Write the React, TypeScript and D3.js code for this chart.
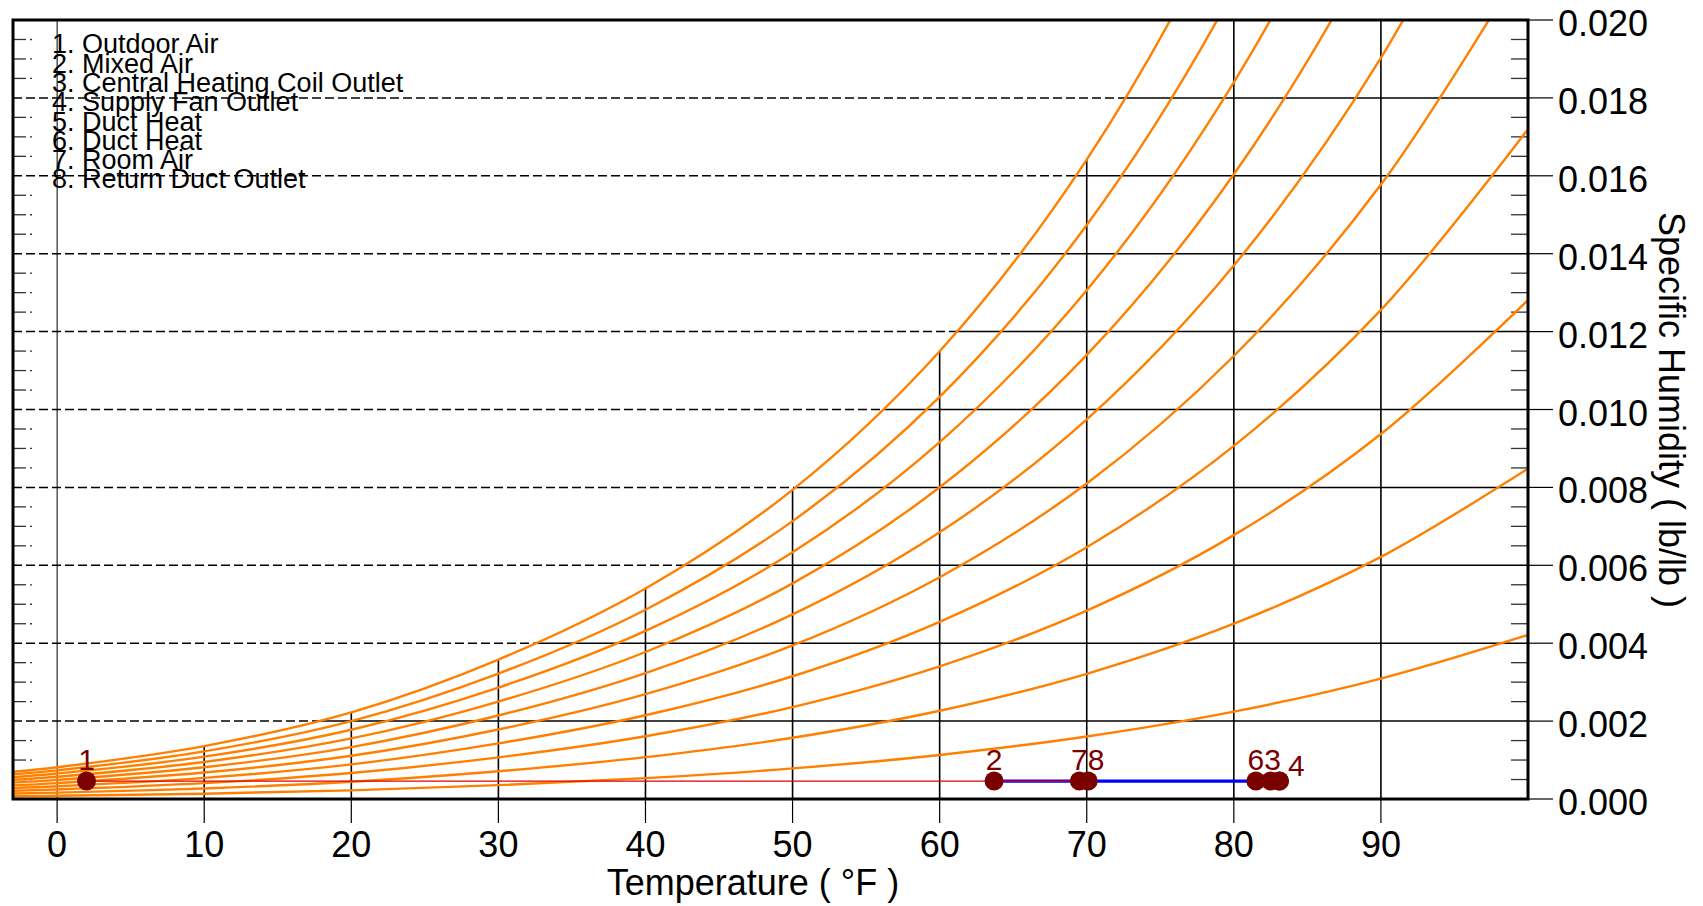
import React from "react";
import * as d3 from "d3";

// ---------- DATA ----------
const temps = [-3, 0, 10, 20, 30, 40, 50, 60, 70, 80, 90, 100];
const rhLevels = [100, 90, 80, 70, 60, 50, 40, 30, 20, 10];
const rh100 = [0.000701, 0.000816, 0.001359, 0.002224, 0.00358, 0.005405, 0.007937, 0.011495, 0.016416, 0.02317, 0.032371, 0.044855];
const rh90 = [0.000631, 0.000735, 0.001223, 0.002001, 0.003221, 0.00486, 0.007134, 0.010326, 0.014736, 0.020775, 0.028983, 0.040081];
const rh80 = [0.00056, 0.000653, 0.001087, 0.001778, 0.002861, 0.004317, 0.006333, 0.009162, 0.013064, 0.018398, 0.02563, 0.035374];
const rh70 = [0.00049, 0.000571, 0.000951, 0.001555, 0.002502, 0.003774, 0.005535, 0.008002, 0.011401, 0.016039, 0.022311, 0.030734];
const rh60 = [0.00042, 0.00049, 0.000815, 0.001333, 0.002143, 0.003232, 0.004738, 0.006846, 0.009747, 0.013698, 0.019026, 0.026159];
const rh50 = [0.00035, 0.000408, 0.000679, 0.00111, 0.001785, 0.002691, 0.003943, 0.005695, 0.008101, 0.011373, 0.015775, 0.021647];
const rh40 = [0.00028, 0.000326, 0.000543, 0.000888, 0.001427, 0.002151, 0.003151, 0.004548, 0.006464, 0.009065, 0.012556, 0.017198];
const rh30 = [0.00021, 0.000245, 0.000407, 0.000666, 0.00107, 0.001612, 0.00236, 0.003404, 0.004836, 0.006774, 0.00937, 0.01281];
const rh20 = [0.00014, 0.000163, 0.000271, 0.000444, 0.000713, 0.001074, 0.001571, 0.002265, 0.003215, 0.0045, 0.006215, 0.008482];
const rh10 = [0.00007, 0.000082, 0.000136, 0.000222, 0.000356, 0.000536, 0.000785, 0.001131, 0.001604, 0.002242, 0.003092, 0.004212];
const rhCurves = [rh100, rh90, rh80, rh70, rh60, rh50, rh40, rh30, rh20, rh10];

// dew-point temperature at each humidity grid level (where dashed becomes solid)
const gridW = [0.002, 0.004, 0.006, 0.008, 0.01, 0.012, 0.014, 0.016, 0.018];
const gridDewT = [17.8, 32.5, 42.7, 50.2, 56.3, 61.2, 65.5, 69.3, 72.7];

const xTicks = [0, 10, 20, 30, 40, 50, 60, 70, 80, 90];
const yTicks = [0, 0.002, 0.004, 0.006, 0.008, 0.01, 0.012, 0.014, 0.016, 0.018, 0.02];
const yTickLabels = ["0.000", "0.002", "0.004", "0.006", "0.008", "0.010", "0.012", "0.014", "0.016", "0.018", "0.020"];

const pointLabels = ["1", "2", "3", "4", "5", "6", "7", "8"];
const pointT = [2.0, 63.7, 82.5, 83.1, 83.1, 81.5, 69.5, 70.1];
const pointW = [0.00046, 0.00046, 0.00046, 0.00046, 0.00046, 0.00046, 0.00046, 0.00046];
const legendItems = [
  "1. Outdoor Air",
  "2. Mixed Air",
  "3. Central Heating Coil Outlet",
  "4. Supply Fan Outlet",
  "5. Duct Heat",
  "6. Duct Heat",
  "7. Room Air",
  "8. Return Duct Outlet",
];

// ---------- LAYOUT ----------
const W = 1703, H = 906;
const L = 13, R = 1528, T = 20, B = 799;
const FONT = "'Liberation Sans', Arial, Helvetica, sans-serif";
const labelOffsets = [
  [0, -11], [0, -11], [2, -11], [17, -5], [0, 40], [0, -11], [0, -11], [8, -11],
];

export default function App() {
  const x = d3.scaleLinear().domain([-3, 100]).range([L, R]);
  const y = d3.scaleLinear().domain([0, 0.02]).range([B, T]);
  const curveGen = d3
    .line<[number, number]>()
    .x((d) => x(d[0]))
    .y((d) => y(d[1]))
    .curve(d3.curveCatmullRom.alpha(0.5));

  const minorW: number[] = [];
  for (let i = 1; i < 40; i++) if (i % 4 !== 0) minorW.push(i * 0.0005);

  const satAt = (t: number) => rh100[temps.indexOf(t)];
  const pts = pointT.map((t, i) => [x(t), y(pointW[i])] as [number, number]);
  const redPath = d3.line()([pts[0], pts[7]]);
  const bluePath = d3.line()([pts[1], pts[2], pts[3], pts[4], pts[5], pts[6], pts[7]]);

  return (
    <svg
      width={W}
      height={H}
      style={{ position: "absolute", left: 0, top: 0, background: "#fff" }}
      fontFamily={FONT}
    >
      <defs>
        <clipPath id="plotClip">
          <rect x={L} y={T} width={R - L} height={B - T} />
        </clipPath>
      </defs>

      {/* minor ticks left and right */}
      {minorW.map((w, i) => (
        <g key={"m" + i} stroke="#333" strokeWidth={1.3}>
          <line x1={L} x2={L + 13} y1={y(w)} y2={y(w)} />
          <line x1={L + 17} x2={L + 19} y1={y(w)} y2={y(w)} />
          <line x1={R - 17} x2={R} y1={y(w)} y2={y(w)} />
        </g>
      ))}

      {/* horizontal grid lines */}
      {gridW.map((w, i) => (
        <g key={"h" + i} stroke="#000" strokeWidth={1.5}>
          <line x1={L} x2={x(gridDewT[i])} y1={y(w)} y2={y(w)} strokeDasharray="9,4" />
          <line x1={x(gridDewT[i])} x2={R} y1={y(w)} y2={y(w)} />
        </g>
      ))}

      {/* vertical grid lines */}
      {xTicks.map((t) => {
        const top = t === 0 ? 0.02 : Math.min(satAt(t), 0.02);
        return (
          <g key={"v" + t} stroke="#000" strokeWidth={t === 0 ? 1 : 1.6}>
            <line x1={x(t)} x2={x(t)} y1={y(top)} y2={B} />
            <line x1={x(t)} x2={x(t)} y1={B} y2={B + 24} strokeWidth={1.2} />
          </g>
        );
      })}

      {/* RH curves */}
      <g clipPath="url(#plotClip)">
        {rhCurves.map((c, i) => (
          <path
            key={"rh" + rhLevels[i]}
            d={curveGen(temps.map((t, j) => [t, c[j]] as [number, number])) || ""}
            fill="none"
            stroke="#ff8000"
            strokeWidth={2.4}
          />
        ))}
      </g>

      {/* process lines */}
      <path d={bluePath || ""} stroke="#0000ff" strokeWidth={3.2} fill="none" />
      <path d={redPath || ""} stroke="#e00000" strokeWidth={1.4} fill="none" />

      {/* points */}
      {pts.map((p, i) => (
        <circle key={"p" + i} cx={p[0]} cy={p[1]} r={9.5} fill="#7a0000" />
      ))}
      <g clipPath="url(#plotClip)">
        {pts.map((p, i) => (
          <text
            key={"pl" + i}
            x={p[0] + labelOffsets[i][0]}
            y={p[1] + labelOffsets[i][1]}
            textAnchor="middle"
            fontSize={30}
            fill="#7a0000"
          >
            {pointLabels[i]}
          </text>
        ))}
      </g>

      {/* legend */}
      {legendItems.map((s, i) => (
        <text key={"lg" + i} x={52} y={53.3 + i * 19.3} fontSize={27} fill="#000">
          {s}
        </text>
      ))}

      {/* plot border */}
      <rect x={L} y={T} width={R - L} height={B - T} fill="none" stroke="#000" strokeWidth={3} />

      {/* right axis */}
      {yTicks.map((w, i) => (
        <g key={"yt" + i}>
          <line x1={R} x2={R + 25} y1={y(w)} y2={y(w)} stroke="#000" strokeWidth={1.2} />
          <text x={1558} y={y(w) + 16} fontSize={36} fill="#000">
            {yTickLabels[i]}
          </text>
        </g>
      ))}

      {/* bottom axis labels */}
      {xTicks.map((t) => (
        <text key={"xt" + t} x={x(t)} y={857} fontSize={36} textAnchor="middle" fill="#000">
          {t}
        </text>
      ))}

      <text x={753} y={895} fontSize={36} textAnchor="middle" fill="#000">
        Temperature ( °F )
      </text>
      <text
        transform="translate(1659,410) rotate(90)"
        fontSize={36}
        textAnchor="middle"
        fill="#000"
      >
        Specific Humidity ( lb/lb )
      </text>
    </svg>
  );
}
